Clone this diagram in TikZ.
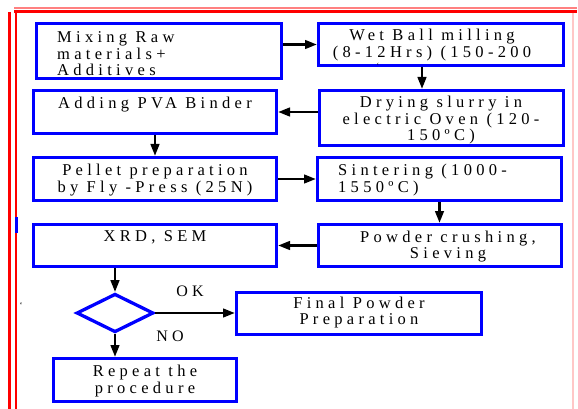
\documentclass[tikz,border=0pt]{standalone}
\usepackage{fontspec}
\setmainfont{Liberation Serif}[LetterSpace=26]
\usetikzlibrary{shapes.geometric,arrows.meta,calc}
\begin{document}
\begin{tikzpicture}[x=1pt,y=-1pt,
  box/.style={draw=blue,line width=3.3pt,inner sep=0pt},
  txt/.style={inner sep=0pt,anchor=north,align=center,font=\fontsize{16.5}{16}\selectfont},
  lab/.style={inner sep=0pt,anchor=base,font=\fontsize{16}{16}\selectfont},
  arr/.style={-{Triangle[length=12pt,width=8.5pt]},line width=2.7pt}]
\useasboundingbox (0,0) rectangle (578,409);
% frame
\draw[red,line width=3pt] (9.5,12) -- (9.5,409);
\draw[red,line width=2pt] (15.5,10) -- (15.5,409);
\draw[red,line width=3pt] (14,11.5) -- (577,11.5);
\draw[red!50,line width=2pt] (14,8.5) -- (577,8.5);
\draw[red!22,line width=1.2pt] (573,13) -- (573,409);
\draw[blue,line width=3pt] (16.5,217) -- (16.5,233);
% boxes
\node[box,minimum width=244.7pt,minimum height=54.7pt] (mix) at (159,51) {};
\node[box,minimum width=244.7pt,minimum height=41.7pt] (wet) at (441,44.5) {};
\node[box,minimum width=242.7pt,minimum height=42.7pt] (pva) at (155,112) {};
\node[box,minimum width=243.7pt,minimum height=54.7pt] (dry) at (441.5,118) {};
\node[box,minimum width=242.7pt,minimum height=42.7pt] (pel) at (155,179) {};
\node[box,minimum width=243.7pt,minimum height=42.7pt] (sin) at (439.5,179) {};
\node[box,minimum width=242.7pt,minimum height=41.7pt] (xrd) at (155,245.5) {};
\node[box,minimum width=242.7pt,minimum height=41.7pt] (pow) at (440,245.5) {};
\node[box,shape=diamond,minimum width=77pt,minimum height=38.5pt] (dia) at (115,313) {};
\node[box,minimum width=244.7pt,minimum height=41.7pt] (fin) at (359,313.5) {};
\node[box,minimum width=182.7pt,minimum height=42.7pt] (rep) at (145,380) {};
% texts
\node[txt,anchor=north west,align=left] (tmix) at (57,30.8) {\strut Mixing Raw\\materials+\\Additives};
\node[txt] (twet) at (432,28.8) {\strut Wet Ball milling\\(8-12Hrs) (150-200};
\node[inner sep=0pt,font=\fontsize{8}{8}\selectfont] (mk1) at (378,66) {`};
\node[txt] (tpva) at (155,96.8) {\strut Adding PVA Binder};
\node[txt] (tdry) at (441,95.8) {\strut Drying slurry in\\electric Oven (120-\\150ºC)};
\node[txt] (tpel) at (155,163.8) {\strut Pellet preparation\\by Fly -Press (25N)};
\node[txt,anchor=north west,align=left] (tsin) at (338,163.8) {\strut Sintering (1000-\\1550ºC)};
\node[txt] (txrd) at (155,229.8) {\strut XRD, SEM};
\node[txt] (tpow) at (448,230.8) {\strut Powder crushing,\\Sieving};
\node[txt] (tfin) at (359,296.8) {\strut Final Powder\\Preparation};
\node[txt] (trep) at (145,364.8) {\strut Repeat the\\procedure};
\node[inner sep=0pt,font=\fontsize{9}{9}\selectfont] (mk2) at (21,306) {`};
% arrows
\draw[arr] (mix.east |- wet.west) -- (wet.west);
\draw[arr] ($(wet.south)+(-19,0)$) -- ($(dry.north)+(-19.5,0)$);
\draw[arr] (dry.west |- pva.east) -- (pva.east);
\draw[arr] (pva.south) -- (pel.north);
\draw[arr] (pel.east) -- (sin.west);
\draw[arr] (sin.south) -- (sin.south |- pow.north);
\draw[arr] (pow.west) -- (xrd.east);
\draw[arr] (dia.north |- xrd.south) -- (dia.north);
\draw[arr] (dia.east) -- (fin.west |- dia.east);
\draw[arr] (dia.south) -- (dia.south |- rep.north);
% labels
\node[lab] (ok) at (190,296) {OK};
\node[lab] (no) at (170,341) {NO};
\end{tikzpicture}
\end{document}
